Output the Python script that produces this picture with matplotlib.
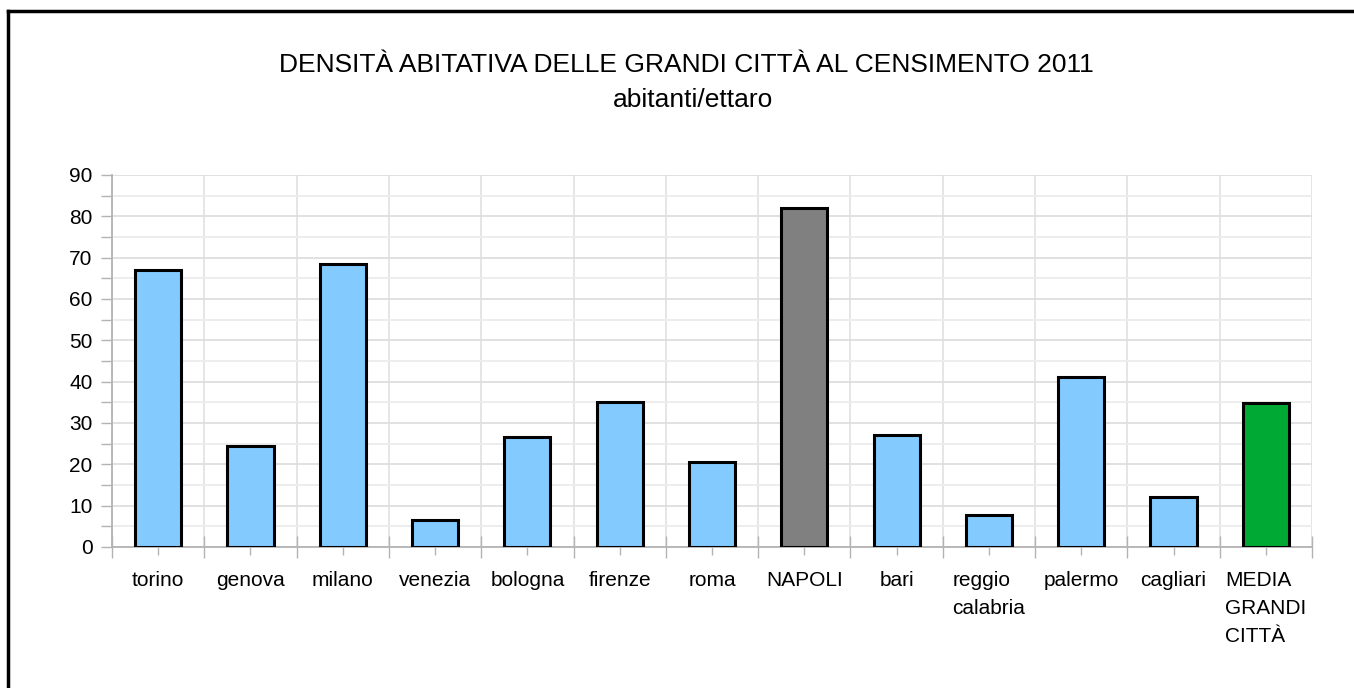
import matplotlib
matplotlib.use('Agg')
import matplotlib.pyplot as plt
from matplotlib.lines import Line2D
from matplotlib.ticker import MultipleLocator, FixedLocator

# data
cities = ['torino', 'genova', 'milano', 'venezia', 'bologna', 'firenze', 'roma',
          'NAPOLI', 'bari', 'reggio\ncalabria', 'palermo', 'cagliari',
          'MEDIA\nGRANDI\nCITTÀ']
density = [67.1, 24.5, 68.4, 6.5, 26.5, 35.0, 20.5, 82.1, 27.0, 7.7, 41.2, 12.2, 34.9]
colors = ['#83CAFF'] * 7 + ['#808080'] + ['#83CAFF'] * 4 + ['#00A933']

plt.rcParams['font.family'] = ['Liberation Sans', 'DejaVu Sans']

fig = plt.figure(figsize=(13.54, 6.88), dpi=100)
ax = fig.add_axes([112 / 1354, 1 - 547 / 688, 1200 / 1354, 372 / 688])

x = list(range(len(cities)))
ax.bar(x, density, width=0.5, color=colors, edgecolor='black', linewidth=2.2, zorder=3)

ax.set_xlim(-0.5, len(cities) - 0.5)
ax.set_ylim(0, 90)

# y axis: labels every 10, minor lines every 5
ax.yaxis.set_major_locator(MultipleLocator(10))
ax.yaxis.set_minor_locator(MultipleLocator(5))
ax.tick_params(axis='y', which='both', direction='out', length=8, width=1,
               color='#b3b3b3', labelsize=15, pad=6)
ax.grid(axis='y', which='major', color='#dedede', linewidth=1.3, zorder=0)
ax.grid(axis='y', which='minor', color='#ececec', linewidth=1.3, zorder=0)

# x axis: labels at centres, separators between categories
ax.set_xticks(x)
ax.set_xticklabels(cities)
for lbl in ax.get_xticklabels():
    lbl.set_multialignment('left')
    lbl.set_linespacing(1.6)
ax.xaxis.set_minor_locator(FixedLocator([i - 0.5 for i in range(len(cities) + 1)]))
ax.tick_params(axis='x', which='major', direction='out', length=6, width=1,
               color='#b3b3b3', labelsize=15, pad=11)
ax.tick_params(axis='x', which='minor', direction='inout', length=16, width=1,
               color='#b3b3b3')
ax.grid(axis='x', which='minor', color='#e3e3e3', linewidth=1.3, zorder=0)
ax.grid(axis='x', which='major', visible=False)

for side in ['top', 'right']:
    ax.spines[side].set_visible(False)
for side in ['left', 'bottom']:
    ax.spines[side].set_color('#b3b3b3')
    ax.spines[side].set_linewidth(1.3)

fig.text(0.507, 1 - 65 / 688, 'DENSITÀ ABITATIVA DELLE GRANDI CITTÀ AL CENSIMENTO 2011',
         ha='center', va='center', fontsize=19)
fig.text(0.512, 1 - 100 / 688, 'abitanti/ettaro', ha='center', va='center', fontsize=19)

# frame around the chart (only left and top edges fall inside the picture)
fig.add_artist(Line2D([8 / 1354, 8 / 1354], [0, 1 - 11 / 688], color='black', linewidth=2.5))
fig.add_artist(Line2D([8 / 1354, 1], [1 - 11 / 688, 1 - 11 / 688], color='black', linewidth=2.5))

fig.savefig('out.png', dpi=100)
